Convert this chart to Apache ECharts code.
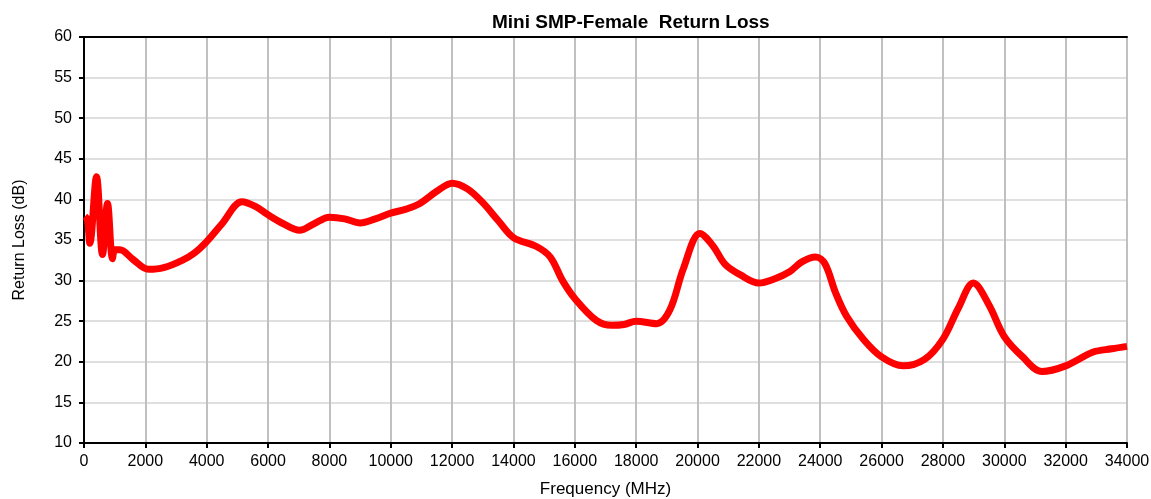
<!DOCTYPE html>
<html>
<head>
<meta charset="utf-8">
<script src="https://cdn.jsdelivr.net/npm/echarts@6/dist/echarts.min.js"></script>
<style>html,body{margin:0;padding:0;background:#fff;overflow:hidden}#c{width:1151px;height:499px}</style>
</head>
<body>
<div id="c"></div>
<script>
const titleText = 'Mini SMP-Female  Return Loss';
const xName = 'Frequency (MHz)';
const yName = 'Return Loss (dB)';
const freqMHz = [30, 110, 190, 408, 603, 766, 929, 1004, 1170, 1600, 2100, 2600, 3200, 3600, 4000, 4500, 5150, 5600, 6000, 6500, 7030, 7500, 8000, 8500, 9000, 9500, 10000, 10500, 10950, 11500, 12000, 12500, 13000, 13500, 14000, 14750, 15200, 15600, 16000, 16700, 17200, 17600, 18000, 18670, 19100, 19540, 20080, 20500, 20900, 21400, 22000, 22500, 23000, 23400, 23850, 24150, 24500, 24860, 25400, 26000, 26700, 27400, 28000, 28500, 28990, 29500, 30000, 30600, 31230, 32000, 32900, 33500, 34000];
const returnLossDb = [37.9, 37.5, 34.6, 42.8, 33.2, 39.5, 32.7, 33.8, 33.8, 32.6, 31.4, 31.6, 32.5, 33.4, 34.8, 37.0, 39.7, 39.1, 38.1, 37.0, 36.2, 37.0, 37.8, 37.6, 37.1, 37.6, 38.3, 38.8, 39.5, 41.0, 42.0, 41.3, 39.6, 37.4, 35.3, 34.2, 32.9, 30.0, 27.8, 25.1, 24.5, 24.6, 25.0, 24.7, 26.4, 31.5, 35.8, 34.3, 32.0, 30.7, 29.7, 30.2, 31.1, 32.3, 32.9, 32.1, 28.5, 25.6, 22.8, 20.6, 19.5, 20.3, 22.8, 26.6, 29.7, 27.0, 23.1, 20.6, 18.8, 19.5, 21.2, 21.6, 21.9];

const data = freqMHz.map((f, i) => [f, returnLossDb[i]]);
const font = 'Liberation Sans, Arial, sans-serif';
const chart = echarts.init(document.getElementById('c'), null, {renderer: 'canvas'});
const blackLine = {show: true, lineStyle: {color: '#000', width: 2}};
chart.setOption({
  animation: false,
  backgroundColor: '#ffffff',
  title: {
    text: titleText, left: 487, top: 8,
    textStyle: {fontFamily: font, fontSize: 19, fontWeight: 'bold', color: '#000'}
  },
  grid: {left: 84, right: 24, top: 37, bottom: 56, containLabel: false, outerBoundsMode: 'none'},
  xAxis: [{
    type: 'value', min: 0, max: 34000, interval: 2000,
    name: xName, nameLocation: 'middle', nameGap: 38,
    nameTextStyle: {fontFamily: font, fontSize: 17, color: '#000'},
    axisLine: blackLine,
    axisTick: {show: true, length: 5, lineStyle: {color: '#000', width: 2}},
    axisLabel: {fontFamily: font, fontSize: 16, color: '#000', margin: 11, formatter: v => String(v)},
    splitLine: {show: true, lineStyle: {color: '#c0c0c0', width: 2}}
  }, {
    type: 'value', position: 'top', min: 0, max: 34000,
    axisLine: blackLine, axisTick: {show: false}, axisLabel: {show: false}, splitLine: {show: false}
  }],
  yAxis: [{
    type: 'value', min: 10, max: 60, interval: 5,
    name: yName, nameLocation: 'middle', nameGap: 56, nameRotate: 90,
    nameTextStyle: {fontFamily: font, fontSize: 16, color: '#000'},
    axisLine: blackLine,
    axisTick: {show: true, length: 5, lineStyle: {color: '#000', width: 2}},
    axisLabel: {fontFamily: font, fontSize: 16, color: '#000', margin: 12},
    splitLine: {show: true, lineStyle: {color: '#d4d4d4', width: 1.5}}
  }, {
    type: 'value', position: 'right', min: 10, max: 60,
    axisLine: blackLine, axisTick: {show: false}, axisLabel: {show: false}, splitLine: {show: false}
  }],
  series: [{
    type: 'line', data: data, smooth: 0.35, showSymbol: false,
    xAxisIndex: 0, yAxisIndex: 0,
    lineStyle: {color: '#ff0000', width: 7}, clip: true
  }]
});
</script>
</body>
</html>
